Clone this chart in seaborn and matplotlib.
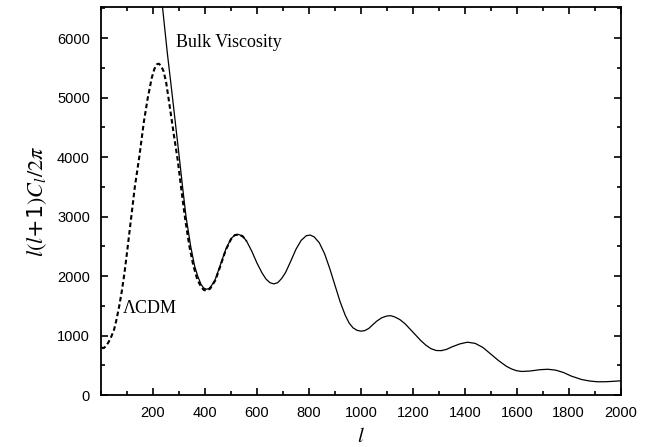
import matplotlib
matplotlib.use("Agg")
import matplotlib.pyplot as plt
import seaborn as sns
import pandas as pd
from matplotlib.ticker import MultipleLocator

# Bulk viscosity model (solid line)
bulk_l = [220, 237, 255, 275, 290, 301, 315, 327, 345, 360, 372, 385, 395, 405,
          415, 425, 440, 460, 480, 500, 515, 530, 545, 560, 580, 600, 620, 635,
          650, 665, 680, 695, 710, 730, 750, 770, 790, 805, 820, 840, 860, 880,
          900, 920, 940, 955, 970, 985, 1000, 1015, 1030, 1045, 1060, 1080, 1100,
          1115, 1130, 1150, 1170, 1200, 1230, 1250, 1270, 1290, 1310, 1330, 1350,
          1380, 1410, 1440, 1470, 1500, 1530, 1560, 1580, 1600, 1620, 1650, 1690,
          1720, 1750, 1780, 1810, 1850, 1880, 1910, 1940, 1970, 2000]
bulk_cl = [7200, 6500, 5750, 5000, 4420, 4000, 3450, 3000, 2500, 2170, 2000, 1860,
           1800, 1780, 1790, 1840, 1950, 2200, 2450, 2630, 2690, 2700, 2670, 2590,
           2420, 2220, 2050, 1950, 1890, 1870, 1890, 1960, 2060, 2250, 2450, 2600,
           2680, 2690, 2660, 2560, 2380, 2130, 1850, 1570, 1340, 1210, 1130, 1090,
           1075, 1085, 1120, 1180, 1240, 1300, 1330, 1335, 1315, 1270, 1200, 1060,
           920, 840, 780, 750, 748, 770, 810, 860, 890, 870, 800, 690, 580, 485,
           440, 410, 398, 405, 428, 435, 420, 380, 320, 262, 238, 225, 225, 232, 241]

# LCDM model (dashed line)
lcdm_l = [2, 10, 20, 30, 40, 50, 60, 70, 80, 90, 100, 115, 130, 147, 165, 180, 195,
          205, 215, 222, 230, 240, 250, 260, 270, 280, 295, 310, 325, 340, 355, 370,
          385, 395, 405, 420, 440, 460, 480, 500, 515, 528, 545, 560]
lcdm_cl = [800, 790, 830, 900, 990, 1100, 1280, 1500, 1750, 2050, 2400, 2950, 3500,
           4000, 4600, 5000, 5330, 5480, 5560, 5570, 5540, 5450, 5270, 4980, 4680,
           4380, 3950, 3420, 2920, 2500, 2180, 1950, 1820, 1770, 1755, 1790, 1930,
           2180, 2440, 2620, 2690, 2700, 2670, 2590]

bulk = pd.DataFrame({"l": bulk_l, "cl": bulk_cl})
lcdm = pd.DataFrame({"l": lcdm_l, "cl": lcdm_cl})

sns.set_style("ticks")
plt.rcParams["mathtext.fontset"] = "stix"

fig = plt.figure(figsize=(6.52, 4.47), dpi=100)
ax = fig.add_axes([0.155, 0.116, 0.797, 0.868])

sns.lineplot(data=bulk, x="l", y="cl", ax=ax, color="black", linewidth=0.9)
sns.lineplot(data=lcdm, x="l", y="cl", ax=ax, color="black", linewidth=1.5,
             linestyle=(0, (2.2, 1.4)))

ax.set_xlim(0, 2000)
ax.set_ylim(0, 6520)
ax.xaxis.set_minor_locator(MultipleLocator(100))
ax.yaxis.set_major_locator(MultipleLocator(1000))
ax.yaxis.set_minor_locator(MultipleLocator(500))
ax.set_xticks(range(200, 2001, 200))
ax.tick_params(which="both", direction="in", top=True, right=True, width=1.2,
               color="black", labelcolor="black")
ax.tick_params(which="major", length=5, labelsize=10.5, pad=8)
ax.tick_params(which="minor", length=3)
for lab in ax.get_xticklabels() + ax.get_yticklabels():
    lab.set_family("Liberation Sans")
for sp in ax.spines.values():
    sp.set_linewidth(1.3)
    sp.set_color("black")

ax.set_xlabel(r"$l$", fontsize=15, labelpad=4, color="black")
ax.set_ylabel(r"$l(l$+1$)C_l/2\pi$", fontsize=16, labelpad=6, color="black")

ax.text(288, 5930, "Bulk Viscosity", family="Liberation Serif", fontsize=13,
        va="center", color="black")
ax.text(82, 1460, "ΛCDM", family="Liberation Serif", fontsize=13, va="center",
        color="black")

fig.savefig("out.png", dpi=100)
